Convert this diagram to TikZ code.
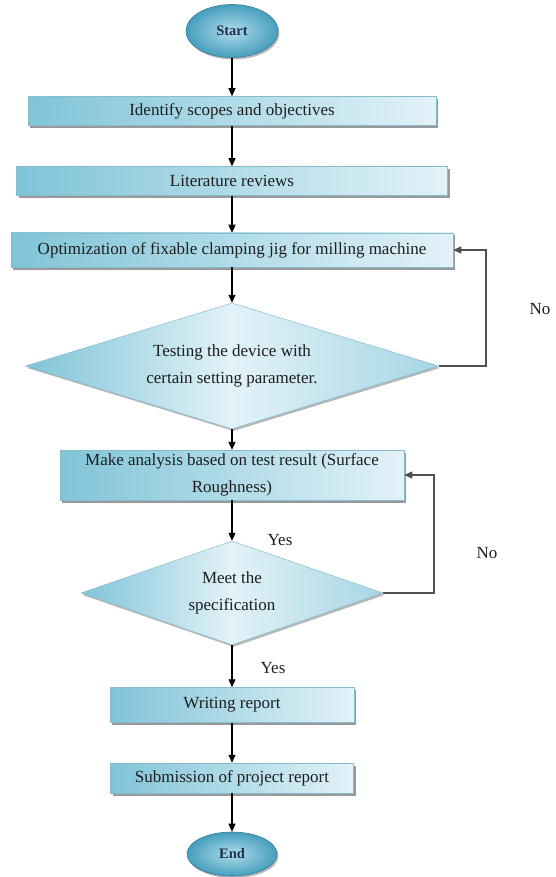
\documentclass[tikz,border=0pt]{standalone}
\usepackage{fontspec}
\setmainfont{Liberation Serif}
\usetikzlibrary{shapes.geometric,arrows.meta,shadows}
\definecolor{boxdark}{RGB}{128,196,216}
\definecolor{boxlight}{RGB}{226,242,248}
\definecolor{boxedge}{RGB}{135,188,205}
\definecolor{elldark}{RGB}{70,158,190}
\definecolor{elllight}{RGB}{175,220,233}
\definecolor{txt}{RGB}{30,30,30}
\definecolor{navy}{RGB}{28,48,78}
\definecolor{loopgray}{RGB}{80,80,80}
\begin{document}
\begin{tikzpicture}[x=1pt,y=1pt,
  procbox/.style={rectangle, draw=boxedge, line width=0.5pt,
    left color=boxdark, right color=boxlight, inner sep=0pt, align=center,
    text=txt, font=\fontsize{17}{27}\selectfont,
    drop shadow={shadow xshift=2pt, shadow yshift=-2.5pt, fill=black!50, opacity=0.8}},
  decbox/.style={diamond, draw=boxedge, line width=0.5pt,
    left color=boxdark, right color=boxdark!70!white, middle color=boxlight,
    inner sep=0pt, align=center, text=txt, font=\fontsize{17}{27}\selectfont,
    drop shadow={shadow xshift=1.5pt, shadow yshift=-2pt, fill=black!40, opacity=0.7}},
  terminal/.style={ellipse, draw=elldark!80!black, line width=0.6pt,
    inner color=elllight, outer color=elldark, inner sep=0pt,
    text=navy, font=\bfseries\fontsize{14.5}{17}\selectfont,
    drop shadow={shadow xshift=1.5pt, shadow yshift=-2pt, fill=black!40, opacity=0.7}},
  flow/.style={draw=black, line width=1.1pt, -{Triangle[length=8pt,width=7pt]}},
  back/.style={draw=loopgray, line width=1.4pt, -{Triangle[length=8pt,width=7pt]}},
  lbl/.style={text=txt, font=\fontsize{17}{20}\selectfont, inner sep=0pt}
]
\useasboundingbox (0,0) rectangle (555,-877);

\node[terminal, minimum width=92pt, minimum height=53pt] (start) at (232,-31) {Start};
\node[procbox, minimum width=408pt, minimum height=29pt] (b1) at (232,-111) {Identify scopes and objectives};
\node[procbox, minimum width=431pt, minimum height=29pt] (b2) at (232,-181) {Literature reviews};
\node[procbox, minimum width=442pt, minimum height=34pt] (b3) at (232,-250) {Optimization of fixable clamping jig for milling machine};
\node[decbox, aspect=3.28, minimum width=413pt, minimum height=126pt] (d1) at (232,-366) {Testing the device with\\certain setting parameter.};
\node[procbox, minimum width=344pt, minimum height=50pt] (b4) at (232,-475) {Make analysis based on test result (Surface\\Roughness)};
\node[decbox, aspect=2.9, minimum width=302pt, minimum height=104pt] (d2) at (232,-593) {Meet the\\specification};
\node[procbox, minimum width=244pt, minimum height=35pt] (b5) at (232,-705) {Writing report};
\node[procbox, minimum width=243pt, minimum height=30pt] (b6) at (232,-778) {Submission of project report};
\node[terminal, minimum width=90pt, minimum height=44pt] (end) at (232,-854) {End};

\draw[flow] (start) -- (b1);
\draw[flow] (b1) -- (b2);
\draw[flow] (b2) -- (b3);
\draw[flow] (b3) -- (d1);
\draw[flow] (d1) -- (b4);
\draw[flow] (b4) -- (d2);
\draw[flow] (d2) -- (b5);
\draw[flow] (b5) -- (b6);
\draw[flow] (b6) -- (end);

\coordinate (r1) at (486,-366);
\coordinate (r2) at (434,-593);
\draw[back] (d1.east) -- (r1) |- (b3.east);
\draw[back] (d2.east) -- (r2) |- (b4.east);

\node[lbl] (no1) at (540,-309) {No};
\node[lbl] (no2) at (487,-553) {No};
\node[lbl] (yes1) at (280,-540) {Yes};
\node[lbl] (yes2) at (273,-668) {Yes};
\end{tikzpicture}
\end{document}
